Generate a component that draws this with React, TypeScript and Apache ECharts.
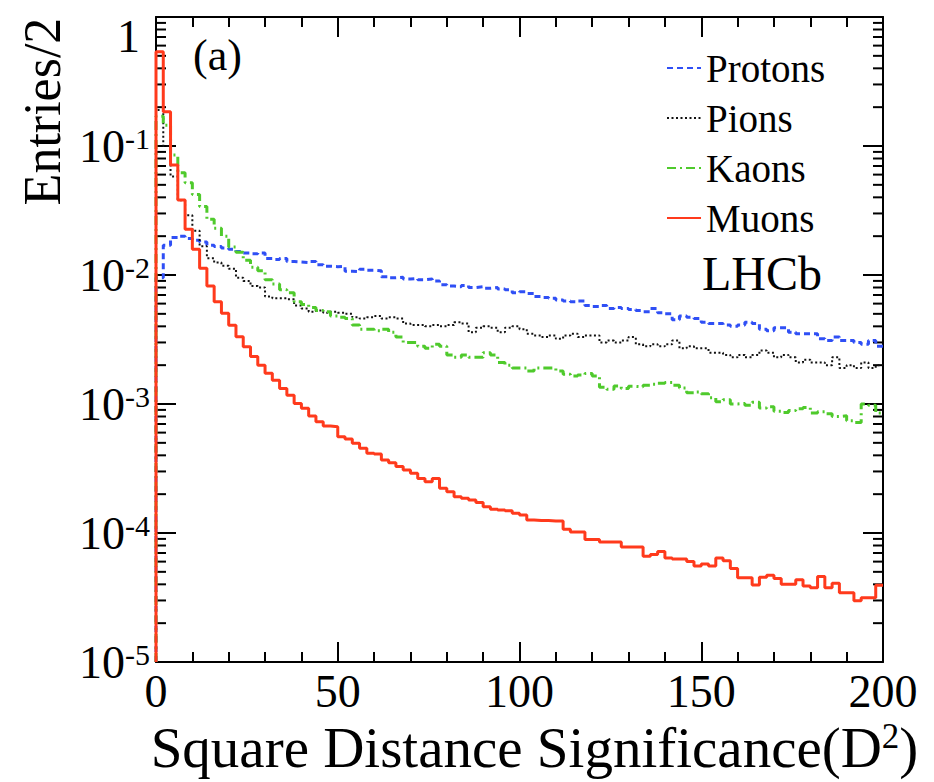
import React, { useEffect, useRef } from "react";
import * as echarts from "echarts";

const BIN_WIDTH = 2;
const X_MIN = 0;
const X_MAX = 200;
const X_INTERVAL = 50;
const Y_MIN = 1e-5;
const Y_MAX = 1;
const seriesNames = ["Protons", "Pions", "Kaons", "Muons"];

const protons = [
  0.0095, 0.017, 0.0195, 0.02, 0.0192, 0.0186, 0.018, 0.017, 0.0166, 0.0162,
  0.0158, 0.0152, 0.0148, 0.0146, 0.0148, 0.0134, 0.0132, 0.0134, 0.0127, 0.0126,
  0.0125, 0.0127, 0.012, 0.0117, 0.0116, 0.0117, 0.0107, 0.0106, 0.0111, 0.0109,
  0.0108, 0.0097, 0.0095, 0.0096, 0.0093, 0.0094, 0.0092, 0.0093, 0.009, 0.0084,
  0.0082, 0.0081, 0.0083, 0.008, 0.0081, 0.0079, 0.008, 0.0078, 0.0077, 0.0073,
  0.0074, 0.0072, 0.0068, 0.0067, 0.0066, 0.0064, 0.0063, 0.0062, 0.0063, 0.0058,
  0.0057, 0.0058, 0.0055, 0.0056, 0.0055, 0.0054, 0.0053, 0.0052, 0.0055, 0.0051,
  0.005, 0.0045, 0.0048, 0.0047, 0.0046, 0.0043, 0.0042, 0.0042, 0.0041, 0.004,
  0.0041, 0.0043, 0.0042, 0.0038, 0.0037, 0.0039, 0.0039, 0.0036, 0.0035, 0.0035,
  0.0035, 0.0032, 0.0031, 0.0033, 0.0031, 0.0031, 0.003, 0.0029, 0.0031, 0.0028,
];

const pions = [
  0.19, 0.1, 0.058, 0.038, 0.029, 0.022, 0.0167, 0.0135, 0.0125, 0.0118,
  0.0112, 0.0095, 0.009, 0.0082, 0.008, 0.0068, 0.0066, 0.0066, 0.0065, 0.0058,
  0.0055, 0.0052, 0.0053, 0.0051, 0.0052, 0.0051, 0.005, 0.0047, 0.0046, 0.0047,
  0.0048, 0.0046, 0.0047, 0.0046, 0.0042, 0.0041, 0.0041, 0.004, 0.0041, 0.004,
  0.0041, 0.0043, 0.0042, 0.0036, 0.0039, 0.004, 0.0039, 0.0036, 0.0039, 0.004,
  0.0038, 0.0035, 0.0034, 0.0033, 0.0034, 0.0032, 0.0034, 0.0035, 0.0033, 0.0034,
  0.0034, 0.003, 0.0031, 0.003, 0.0031, 0.0033, 0.0029, 0.0028, 0.0029, 0.0028,
  0.0029, 0.0031, 0.0027, 0.0028, 0.0027, 0.0027, 0.0025, 0.0025, 0.0024, 0.0023,
  0.0024, 0.0023, 0.0024, 0.0026, 0.0025, 0.0023, 0.0024, 0.0023, 0.0021, 0.0022,
  0.0021, 0.0021, 0.002, 0.0023, 0.0019, 0.002, 0.0019, 0.0021, 0.0019, 0.002,
];

const kaons = [
  0.17, 0.145, 0.085, 0.062, 0.052, 0.042, 0.034, 0.027, 0.023, 0.02,
  0.0165, 0.015, 0.013, 0.0115, 0.0108, 0.0092, 0.0085, 0.0077, 0.0073, 0.0062,
  0.0059, 0.0056, 0.0053, 0.0052, 0.0048, 0.0047, 0.0046, 0.0041, 0.0038, 0.0038,
  0.0037, 0.0038, 0.0036, 0.0033, 0.003, 0.003, 0.0028, 0.0027, 0.0029, 0.0028,
  0.0024, 0.0023, 0.0024, 0.0023, 0.0023, 0.0025, 0.0024, 0.0021, 0.002, 0.0019,
  0.0019, 0.0018, 0.0019, 0.0019, 0.0019, 0.0018, 0.0017, 0.00165, 0.00168, 0.00172,
  0.00165, 0.00135, 0.0013, 0.00138, 0.00132, 0.00137, 0.00136, 0.0014, 0.00142, 0.00145,
  0.00147, 0.0014, 0.00133, 0.00122, 0.00124, 0.0012, 0.00112, 0.00104, 0.00108, 0.001,
  0.00101, 0.00098, 0.00103, 0.00093, 0.00095, 0.00088, 0.00086, 0.00089, 0.00092, 0.00094,
  0.00085, 0.00087, 0.00084, 0.0008, 0.00081, 0.00074, 0.00072, 0.001, 0.00098, 0.00085,
];

const muons = [
  0.538, 0.1845, 0.0713, 0.0381, 0.0226, 0.0158, 0.01127, 0.00822, 0.00621, 0.00505,
  0.00407, 0.00332, 0.00278, 0.00233, 0.002, 0.00173, 0.00153, 0.00132, 0.00117, 0.00101,
  0.000926, 0.000807, 0.00073, 0.000675, 0.000667, 0.000558, 0.000535, 0.000496, 0.000454, 0.000415,
  0.000409, 0.000368, 0.000351, 0.000327, 0.000308, 0.00029, 0.000265, 0.00025, 0.000265, 0.000222,
  0.000209, 0.000191, 0.000186, 0.00018, 0.000172, 0.00016, 0.000153, 0.000151, 0.000149, 0.000142,
  0.000138, 0.000126, 0.000125, 0.000125, 0.000124, 0.000124, 0.000107, 0.000102, 0.000102, 0.000089,
  0.000089, 0.000085, 0.000085, 0.000085, 0.000078, 0.000078, 0.000078, 0.000066, 0.000068, 0.000072,
  0.000064, 0.000063, 0.000063, 0.00006, 0.0000555, 0.0000575, 0.0000555, 0.000064, 0.000061, 0.000053,
  0.000045, 0.000045, 0.0000396, 0.0000454, 0.000047, 0.0000443, 0.00004, 0.00004, 0.0000435, 0.0000388,
  0.0000377, 0.000046, 0.0000377, 0.0000407, 0.0000344, 0.0000344, 0.0000298, 0.0000315, 0.0000315, 0.0000393,
];

const FONT = "Liberation Serif";

function histData(vals: number[]): number[][] {
  const d: number[][] = [[X_MIN, Y_MIN]];
  vals.forEach((v, i) => d.push([X_MIN + i * BIN_WIDTH, v]));
  d.push([X_MIN + vals.length * BIN_WIDTH, vals[vals.length - 1]]);
  return d;
}

const styles = [
  { color: "#2f4ff5", width: 3, type: [6, 4] as any },
  { color: "#111111", width: 2, type: [2, 2.5] as any },
  { color: "#4fca2c", width: 3, type: [9, 4, 2, 4] as any },
  { color: "#ff3a1c", width: 3, type: "solid" as any },
];

export default function App() {
  const ref = useRef<HTMLDivElement>(null);

  useEffect(() => {
    if (!ref.current) return;
    document.body.style.margin = "0";
    const chart = echarts.init(ref.current, null, { renderer: "svg" });
    const datasets = [protons, pions, kaons, muons];

    // the top label "1" is drawn below its tick (as in the reference), via graphic
    const yLabel = (v: number) => {
      const e = Math.round(Math.log10(v));
      if (e === 0) return "";
      return "{b|10}{s|" + e + "}";
    };

    const option: any = {
      animation: false,
      backgroundColor: "#ffffff",
      grid: { left: 156, right: 51, top: 17, bottom: 120, containLabel: false },
      legend: {
        orient: "vertical",
        left: 661,
        top: 43,
        itemWidth: 34,
        itemHeight: 14,
        itemGap: 10,
        data: seriesNames,
        itemStyle: { opacity: 0, borderWidth: 0 },
        textStyle: { fontFamily: FONT, fontSize: 39, lineHeight: 40, color: "#000" },
      },
      xAxis: [
        {
          type: "value",
          min: X_MIN,
          max: X_MAX,
          interval: X_INTERVAL,
          position: "bottom",
          name: "Square Distance Significance(D{sup|2})",
          nameLocation: "middle",
          nameGap: 48,
          nameTextStyle: {
            fontFamily: FONT,
            fontSize: 57,
            lineHeight: 58,
            color: "#000",
            padding: [0, 0, 0, 30],
            rich: {
              sup: { fontFamily: FONT, fontSize: 35, verticalAlign: "top", lineHeight: 30, color: "#000" },
            },
          },
          axisLine: { show: true, onZero: false, lineStyle: { color: "#000", width: 2 } },
          axisTick: { show: true, inside: true, length: 20, lineStyle: { color: "#000", width: 2 } },
          minorTick: { show: true, splitNumber: 5, length: 10, lineStyle: { color: "#000", width: 2 } },
          axisLabel: { fontFamily: FONT, fontSize: 46, color: "#000", margin: 6 },
          splitLine: { show: false },
        },
        {
          type: "value",
          min: X_MIN,
          max: X_MAX,
          interval: X_INTERVAL,
          position: "top",
          axisLine: { show: true, onZero: false, lineStyle: { color: "#000", width: 2 } },
          axisTick: { show: true, inside: true, length: 20, lineStyle: { color: "#000", width: 2 } },
          minorTick: { show: true, splitNumber: 5, length: 10, lineStyle: { color: "#000", width: 2 } },
          axisLabel: { show: false },
          splitLine: { show: false },
        },
      ],
      yAxis: [
        {
          type: "log",
          logBase: 10,
          min: Y_MIN,
          max: Y_MAX,
          position: "left",
          name: "Entries/2",
          nameLocation: "middle",
          nameRotate: 90,
          nameGap: 88,
          nameTextStyle: {
            fontFamily: FONT,
            fontSize: 52,
            color: "#000",
            padding: [0, 0, 0, 456],
          },
          axisLine: { show: true, onZero: false, lineStyle: { color: "#000", width: 2 } },
          axisTick: { show: true, inside: true, length: 20, lineStyle: { color: "#000", width: 2 } },
          axisLabel: {
            formatter: yLabel,
            margin: 6,
            rich: {
              b: { fontFamily: FONT, fontSize: 46, lineHeight: 46, color: "#000" },
              s: { fontFamily: FONT, fontSize: 30, lineHeight: 26, verticalAlign: "top", color: "#000" },
            },
          },
          splitLine: { show: false },
        },
        {
          type: "log",
          logBase: 10,
          min: Y_MIN,
          max: Y_MAX,
          position: "right",
          axisLine: { show: true, onZero: false, lineStyle: { color: "#000", width: 2 } },
          axisTick: { show: true, inside: true, length: 20, lineStyle: { color: "#000", width: 2 } },
          axisLabel: { show: false },
          splitLine: { show: false },
        },
      ],
      series: datasets.map((vals, i) => ({
        name: seriesNames[i],
        type: "line",
        step: "end",
        symbol: "none",
        xAxisIndex: 0,
        yAxisIndex: 0,
        data: histData(vals),
        lineStyle: { color: styles[i].color, width: styles[i].width, type: styles[i].type },
        itemStyle: { color: styles[i].color },
        emphasis: { disabled: true },
      })),
    };

    chart.setOption(option);

    const px0 = chart.convertToPixel({ xAxisIndex: 0 }, X_MIN) as number;
    const px1 = chart.convertToPixel({ xAxisIndex: 0 }, X_MAX) as number;
    const pyTop = chart.convertToPixel({ yAxisIndex: 0 }, Y_MAX) as number;
    const minorTicks: any[] = [];
    for (let e = -5; e < 0; e++) {
      for (let k = 2; k <= 9; k++) {
        const y = chart.convertToPixel({ yAxisIndex: 0 }, k * Math.pow(10, e)) as number;
        minorTicks.push({
          type: "line",
          silent: true,
          shape: { x1: px0, y1: y, x2: px0 + 10, y2: y },
          style: { stroke: "#000", lineWidth: 2 },
        });
        minorTicks.push({
          type: "line",
          silent: true,
          shape: { x1: px1 - 10, y1: y, x2: px1, y2: y },
          style: { stroke: "#000", lineWidth: 2 },
        });
      }
    }

    chart.setOption({
      graphic: [
        {
          type: "text",
          x: px0 - 16,
          y: pyTop - 4,
          style: { text: "1", fontFamily: FONT, fontSize: 46, fill: "#000", verticalAlign: "top", align: "right" },
        },
        {
          type: "text",
          x: 193,
          y: 55,
          style: { text: "(a)", fontFamily: FONT, fontSize: 44, fill: "#000", verticalAlign: "middle", align: "left" },
        },
        {
          type: "text",
          x: 702,
          y: 273,
          style: { text: "LHCb", fontFamily: FONT, fontSize: 48, fill: "#000", verticalAlign: "middle", align: "left" },
        },
        ...minorTicks,
      ],
    });

    return () => chart.dispose();
  }, []);

  return <div ref={ref} style={{ width: 934, height: 782 }} />;
}
